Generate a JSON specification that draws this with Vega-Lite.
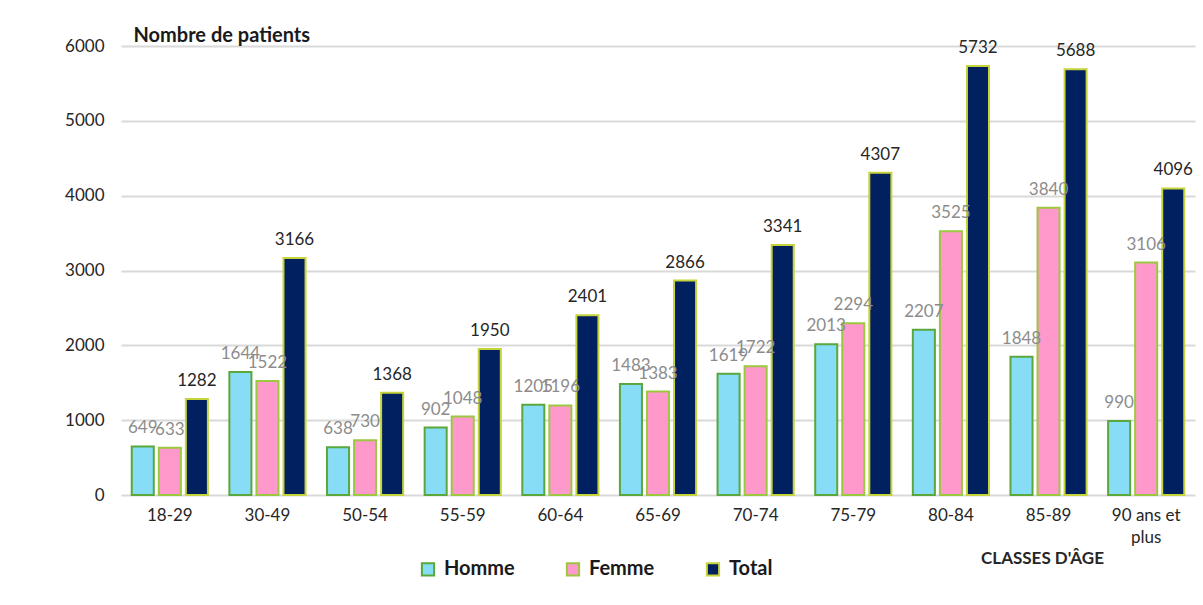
{
  "$schema": "https://vega.github.io/schema/vega-lite/v6.json",
  "autosize": {"type": "none"},
  "padding": {"left": 121, "top": 46, "right": 8, "bottom": 110},
  "width": 1074,
  "height": 449,
  "background": "white",
  "config": {
    "font": "Lato",
    "view": {"stroke": null}
  },
  "data": {
    "values": [
      {"classe": "18-29", "serie": "Homme", "n": 649},
      {"classe": "18-29", "serie": "Femme", "n": 633},
      {"classe": "18-29", "serie": "Total", "n": 1282},
      {"classe": "30-49", "serie": "Homme", "n": 1644},
      {"classe": "30-49", "serie": "Femme", "n": 1522},
      {"classe": "30-49", "serie": "Total", "n": 3166},
      {"classe": "50-54", "serie": "Homme", "n": 638},
      {"classe": "50-54", "serie": "Femme", "n": 730},
      {"classe": "50-54", "serie": "Total", "n": 1368},
      {"classe": "55-59", "serie": "Homme", "n": 902},
      {"classe": "55-59", "serie": "Femme", "n": 1048},
      {"classe": "55-59", "serie": "Total", "n": 1950},
      {"classe": "60-64", "serie": "Homme", "n": 1205},
      {"classe": "60-64", "serie": "Femme", "n": 1196},
      {"classe": "60-64", "serie": "Total", "n": 2401},
      {"classe": "65-69", "serie": "Homme", "n": 1483},
      {"classe": "65-69", "serie": "Femme", "n": 1383},
      {"classe": "65-69", "serie": "Total", "n": 2866},
      {"classe": "70-74", "serie": "Homme", "n": 1619},
      {"classe": "70-74", "serie": "Femme", "n": 1722},
      {"classe": "70-74", "serie": "Total", "n": 3341},
      {"classe": "75-79", "serie": "Homme", "n": 2013},
      {"classe": "75-79", "serie": "Femme", "n": 2294},
      {"classe": "75-79", "serie": "Total", "n": 4307},
      {"classe": "80-84", "serie": "Homme", "n": 2207},
      {"classe": "80-84", "serie": "Femme", "n": 3525},
      {"classe": "80-84", "serie": "Total", "n": 5732},
      {"classe": "85-89", "serie": "Homme", "n": 1848},
      {"classe": "85-89", "serie": "Femme", "n": 3840},
      {"classe": "85-89", "serie": "Total", "n": 5688},
      {"classe": "90 ans et plus", "serie": "Homme", "n": 990},
      {"classe": "90 ans et plus", "serie": "Femme", "n": 3106},
      {"classe": "90 ans et plus", "serie": "Total", "n": 4096}
    ]
  },
  "encoding": {
    "x": {
      "field": "classe",
      "type": "nominal",
      "sort": null,
      "scale": {"paddingInner": 0.22, "paddingOuter": 0.11},
      "axis": {
        "labelAngle": 0,
        "labelFontSize": 17,
        "labelColor": "#262626",
        "labelPadding": 12,
        "labelLineHeight": 22,
        "labelExpr": "datum.label == '90 ans et plus' ? ['90 ans et', 'plus'] : datum.label",
        "domain": false,
        "ticks": false,
        "grid": false,
        "title": "CLASSES D'ÂGE",
        "titleFontSize": 17,
        "titleFontWeight": "bold",
        "titleColor": "#262626",
        "titleX": 921,
        "titleY": 63,
        "titleAlign": "center",
        "titleBaseline": "middle"
      }
    },
    "xOffset": {
      "field": "serie",
      "type": "nominal",
      "sort": ["Homme", "Femme", "Total"],
      "scale": {"domain": ["Homme", "Femme", "Total"], "paddingInner": 0.185, "paddingOuter": 0}
    },
    "y": {
      "field": "n",
      "type": "quantitative",
      "scale": {"domain": [0, 6000], "nice": false},
      "axis": {
        "values": [0, 1000, 2000, 3000, 4000, 5000, 6000],
        "format": "d",
        "labelFontSize": 17,
        "labelColor": "#262626",
        "labelPadding": 17,
        "domain": false,
        "ticks": false,
        "gridColor": "#d9d9d9",
        "gridWidth": 2,
        "title": "Nombre de patients",
        "titleAngle": 0,
        "titleFontSize": 20,
        "titleFontWeight": "bold",
        "titleColor": "#1a1a1a",
        "titleX": 12,
        "titleY": -11,
        "titleAlign": "left",
        "titleBaseline": "middle"
      }
    }
  },
  "layer": [
    {
      "mark": {"type": "bar", "strokeWidth": 2},
      "encoding": {
        "fill": {
          "field": "serie",
          "type": "nominal",
          "scale": {"domain": ["Homme", "Femme", "Total"], "range": ["#87dcf6", "#ff99cc", "#002060"]},
          "legend": {
            "orient": "none",
            "legendX": 297,
            "legendY": 513,
            "direction": "horizontal",
            "title": null,
            "symbolType": "square",
            "symbolSize": 150,
            "symbolStrokeWidth": 2,
            "symbolOffset": 0,
            "labelFontSize": 20,
            "labelFontWeight": "bold",
            "labelColor": "#1a1a1a",
            "labelOffset": 6,
            "columnPadding": 47
          }
        },
        "stroke": {
          "field": "serie",
          "type": "nominal",
          "scale": {"domain": ["Homme", "Femme", "Total"], "range": ["#5aa83c", "#9cc83f", "#c5d43a"]}
        }
      }
    },
    {
      "mark": {"type": "text", "baseline": "alphabetic", "dy": -13, "fontSize": 17},
      "encoding": {
        "text": {"field": "n", "type": "quantitative"},
        "color": {
          "condition": {"test": "datum.serie == 'Total'", "value": "#262626"},
          "value": "#8c8c8c"
        }
      }
    }
  ]
}
